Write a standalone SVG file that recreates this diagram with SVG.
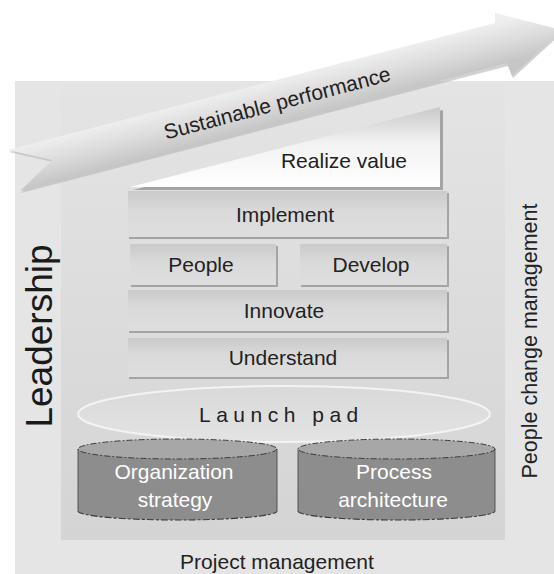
<svg xmlns="http://www.w3.org/2000/svg" width="554" height="574" viewBox="0 0 554 574">
<defs>
<style>
.t{font-family:"Liberation Sans",Arial,sans-serif;font-size:21px;fill:#222;text-anchor:middle}
.tw{font-family:"Liberation Sans",Arial,sans-serif;font-size:21px;fill:#fff;text-anchor:middle}
.box{fill:url(#boxg)}
.shadow{fill:#a4a4a4}
.cylbody{fill:#8d8d8d}
.cylside{stroke:#4a4a4a;stroke-width:0.9;fill:none}
.cylbot{stroke:#3a3a3a;stroke-width:1.1;fill:none;stroke-dasharray:7 2 3 2}
.cyltop{fill:#a7a7a7;stroke:#3a3a3a;stroke-width:1;stroke-dasharray:6 2 2 2}
</style>
<linearGradient id="boxg" x1="0" y1="0" x2="0" y2="1">
<stop offset="0" stop-color="#cacaca"/>
<stop offset="0.45" stop-color="#dadada"/>
<stop offset="1" stop-color="#dedede"/>
</linearGradient>
<linearGradient id="innerg" x1="0" y1="0" x2="0" y2="1">
<stop offset="0" stop-color="#e4e4e4"/>
<stop offset="1" stop-color="#d4d4d4"/>
</linearGradient>
<linearGradient id="realg" x1="0" y1="0" x2="0" y2="1">
<stop offset="0" stop-color="#c9c9c9"/>
<stop offset="0.45" stop-color="#f2f2f2"/>
<stop offset="1" stop-color="#ffffff"/>
</linearGradient>
<linearGradient id="arrowg" gradientUnits="userSpaceOnUse" x1="273.7" y1="80.7" x2="284.3" y2="121.3">
<stop offset="0" stop-color="#eeeeee"/>
<stop offset="0.5" stop-color="#dcdcdc"/>
<stop offset="1" stop-color="#c6c6c6"/>
</linearGradient>
<linearGradient id="padg" x1="0" y1="0" x2="0" y2="1">
<stop offset="0" stop-color="#d9d9d9"/>
<stop offset="1" stop-color="#e3e3e3"/>
</linearGradient>
</defs>

<g id="background">
<rect x="15" y="81" width="545" height="500" fill="#e5e5e6"/>
<rect x="61" y="84" width="444" height="456" fill="url(#innerg)"/>
</g>

<g id="realize-value">
<polygon points="133,190 443,110 443,190" class="shadow"/>
<polygon points="130,187 440,107 440,187" fill="url(#realg)"/>
<text class="t" x="344" y="168">Realize value</text>
</g>

<g id="arrow">
<polygon points="9,152 53,162 21,193 508,66 513,78 563,32 497,15 496,25" fill="#b4b4b4" opacity="0.6"/>
<polygon points="8,150 52,160 20,191 507,63 512,76 562,30 495,13 495,23" fill="url(#arrowg)"/>
<text class="t" transform="translate(279,110) rotate(-14.7)" x="0" y="0">Sustainable performance</text>
</g>

<g id="implement">
<rect x="129" y="193" width="320" height="46" class="shadow"/>
<rect x="128" y="191" width="319" height="46" class="box"/>
<text class="t" x="285" y="222">Implement</text>
</g>
<g id="people">
<rect x="131" y="246" width="147" height="41" class="shadow"/>
<rect x="130" y="244" width="146" height="41" class="box"/>
<text class="t" x="201" y="272">People</text>
</g>
<g id="develop">
<rect x="301" y="246" width="148" height="41" class="shadow"/>
<rect x="300" y="244" width="147" height="41" class="box"/>
<text class="t" x="371" y="272">Develop</text>
</g>
<g id="innovate">
<rect x="129" y="292" width="320" height="41" class="shadow"/>
<rect x="128" y="290" width="319" height="41" class="box"/>
<text class="t" x="284" y="318">Innovate</text>
</g>
<g id="understand">
<rect x="129" y="340" width="320" height="39" class="shadow"/>
<rect x="128" y="338" width="319" height="39" class="box"/>
<text class="t" x="283" y="365">Understand</text>
</g>

<g id="launch-pad">
<ellipse cx="284" cy="414" rx="206" ry="28" fill="url(#padg)" stroke="#f3f3f3" stroke-width="2"/>
<text x="199" y="422" style="font-family:'Liberation Sans',Arial,sans-serif;font-size:21px;fill:#222;letter-spacing:5.5px">Launch pad</text>
</g>

<g id="organization-strategy">
<path d="M78,449 L78,511 A99.5,9 0 0 0 277,511 L277,449 Z" class="cylbody"/>
<path d="M78,449 L78,511 M277,449 L277,511" class="cylside"/>
<path d="M78,511 A99.5,9 0 0 0 277,511" class="cylbot"/>
<ellipse cx="177.5" cy="449" rx="99.5" ry="10" class="cyltop"/>
<text class="tw" x="174" y="479">Organization</text>
<text class="tw" x="175" y="507">strategy</text>
</g>

<g id="process-architecture">
<path d="M298,449 L298,511 A98.5,9 0 0 0 495,511 L495,449 Z" class="cylbody"/>
<path d="M298,449 L298,511 M495,449 L495,511" class="cylside"/>
<path d="M298,511 A98.5,9 0 0 0 495,511" class="cylbot"/>
<ellipse cx="396.5" cy="449" rx="98.5" ry="10" class="cyltop"/>
<text class="tw" x="394" y="479">Process</text>
<text class="tw" x="393" y="507">architecture</text>
</g>

<g id="leadership">
<text transform="translate(52,336) rotate(-90)" style="font-family:'Liberation Sans',Arial,sans-serif;font-size:37px;fill:#1a1a1a;text-anchor:middle">Leadership</text>
</g>
<g id="people-change-management">
<text transform="translate(537,341) rotate(-90)" style="font-family:'Liberation Sans',Arial,sans-serif;font-size:21.5px;fill:#222;text-anchor:middle">People change management</text>
</g>
<g id="project-management">
<text class="t" x="277" y="569">Project management</text>
</g>
<g id="connectors"/>
</svg>
